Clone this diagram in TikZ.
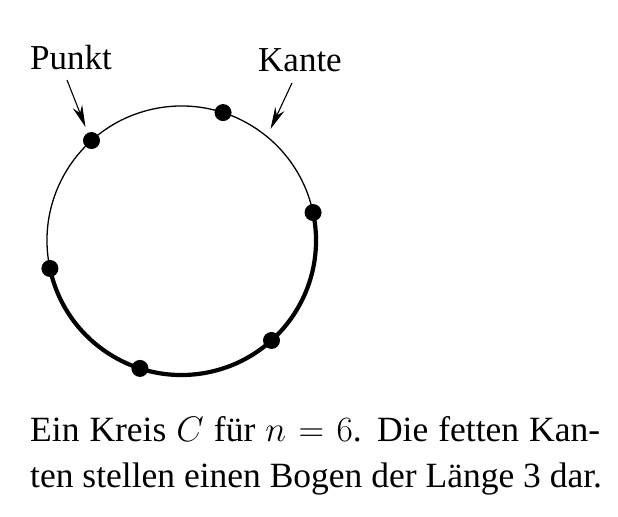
\RequirePackage{fix-cm}
\documentclass[tikz,border=0pt]{standalone}
\usepackage{fontspec}
\setmainfont{Liberation Serif}
\usetikzlibrary{arrows.meta,calc}
\begin{document}
\begin{tikzpicture}[x=1bp,y=-1bp,
  dot/.style={circle,fill=black,inner sep=0pt,minimum size=17bp},
  thinarc/.style={line width=1.3bp},
  thickarc/.style={line width=4.2bp},
  lbl/.style={font=\fontsize{35bp}{42bp}\selectfont,inner sep=0pt},
  captext/.style={font=\fontsize{35.5bp}{42bp}\selectfont,inner sep=0pt,anchor=base west},
  arr/.style={line width=1.1bp,-{Stealth[length=22bp,width=10bp,inset=7bp]}}]
\useasboundingbox (0,0) rectangle (618,517);
\coordinate (c) at (181.5,240.5);
\def\R{134.5}
% thin and thick arcs (y axis points down, so angles are mirrored)
\draw[thinarc] (c) ++(-12:\R) arc[start angle=-12,end angle=-192,radius=\R];
\draw[thickarc] (c) ++(-12:\R) arc[start angle=-12,end angle=168,radius=\R];
% points
\foreach \i/\a in {1/-12,2/-72,3/-132,4/-192,5/-252,6/-312}{
  \node[dot] (p\i) at ($(c)+(\a:\R)$) {};
}
% labels
\node[lbl,anchor=base west] (punkt) at (30,69.5) {Punkt};
\node[lbl,anchor=base west] (kante) at (258,71.5) {Kante};
\coordinate (pa) at (67,80);
\coordinate (ka) at (292,83);
\coordinate (pt) at (85.5,127);
\coordinate (kt) at (270.5,129);
\draw[arr] (pa) -- (pt);
\draw[arr] (ka) -- (kt);
% caption
\node[captext] (l1) at (30,441.7) {\hbox to 570bp{Ein Kreis $C$ für $n=6$. Die fetten Kan-}};
\node[captext] (l2) at (30,487.3) {ten stellen einen Bogen der Länge 3 dar.};
\end{tikzpicture}
\end{document}
